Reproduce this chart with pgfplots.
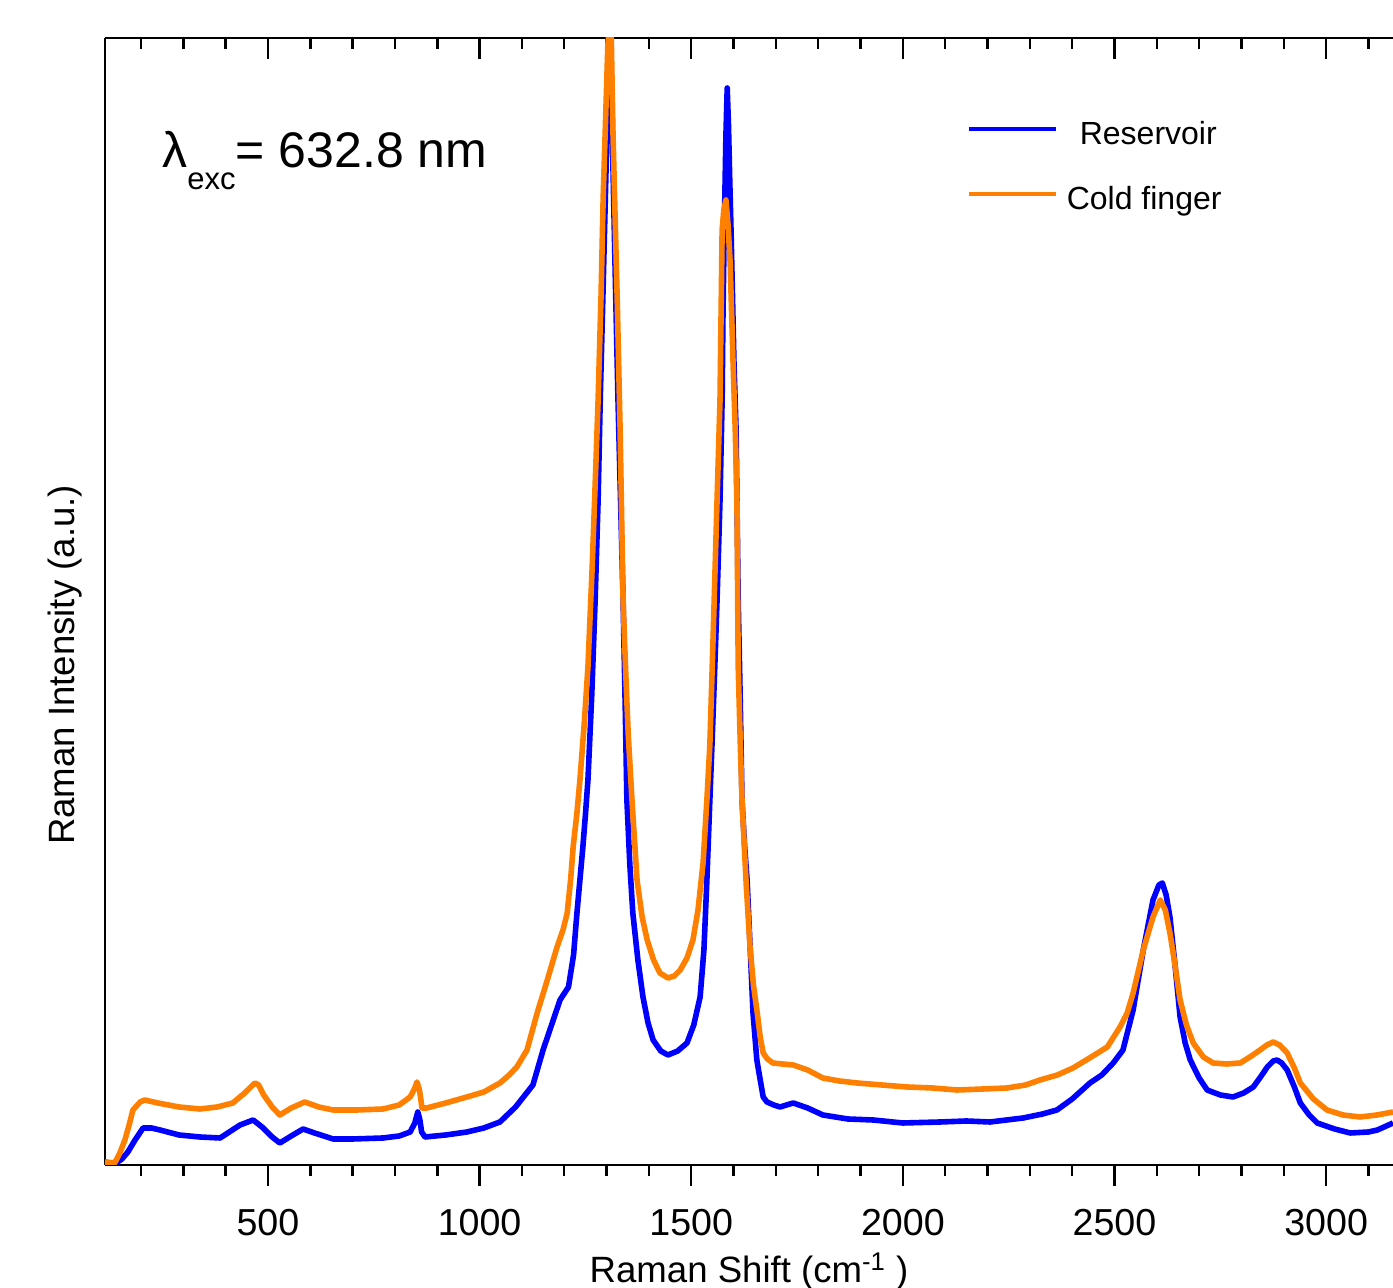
\documentclass[border=0pt]{standalone}
\usepackage{fontspec}
\setmainfont{Liberation Sans}
\usepackage{pgfplots}
\pgfplotsset{compat=1.18}
\definecolor{myblue}{RGB}{0,0,255}
\definecolor{myorange}{RGB}{255,128,0}
\begin{document}
\begin{tikzpicture}
\pgfplotsset{
  common/.style={
    scale only axis, width=644pt, height=563.5pt,
    xmin=115, xmax=3158, ymin=0, ymax=1127,
    xtick={500,1000,...,3000},
    minor xtick={200,300,...,3100},
    ytick=\empty,
    major tick length=10.5pt, minor tick length=5.5pt,
    every tick/.style={line width=1.25pt, black},
    axis line style={line width=1.25pt, -},
    every outer x axis line/.append style={-},
    every outer y axis line/.append style={-},
    /pgf/number format/1000 sep={},
    /pgf/number format/assume math mode=true,
  }
}
\begin{axis}[common,
  axis x line*=top, axis y line=none,
  tick align=inside,
  xticklabels={},
]
\end{axis}
\begin{axis}[common,
  axis x line*=bottom, axis y line*=left,
  tick align=outside,
  xticklabel style={font=\fontsize{18.8}{22}\selectfont, anchor=base, yshift=-25pt},
  xlabel={Raman Shift (cm\textsuperscript{-1} )},
  xlabel style={at={(axis description cs:0.5,0)}, anchor=base, yshift=-59pt, font=\fontsize{18.3}{22}\selectfont},
  ylabel={Raman Intensity (a.u.)},
  ylabel style={at={(axis description cs:-0.031,0.4437)}, anchor=center, font=\fontsize{18.3}{22}\selectfont},
  legend style={at={(axis description cs:0.6685,0.926)}, anchor=north west, draw=none, fill=none,
    font=\fontsize{16}{19}\selectfont, row sep=17.5pt, column sep=4.5pt, inner sep=0pt,
    nodes={inner sep=0pt, text height=11.5pt, text depth=3.5pt}},
  legend cell align=left,
  legend image code/.code={\draw[#1, line width=2.2pt] (0pt,4pt) -- (43.5pt,4pt);},
  clip=true,
]
\addplot[myblue, line width=2.8pt, line join=round] coordinates {
(115,3) (138,1) (155,6) (169,13) (186,25) (205,37) (225,37) (245,35) (290,30) (339,28) (387,27) (434,40) (465,45) (486,38) (510,28) (528,22) (555,29) (583,36) (610,32) (654,26) (700,26) (772,27) (810,29) (836,33) (847,42) (854,53) (859,45) (863,33) (871,28) (920,30) (970,33) (1010,37) (1048,43) (1085,58) (1126,80) (1150,115) (1170,140) (1190,165) (1210,178) (1222,210) (1230,252) (1237,285) (1244,318) (1250,350) (1256,385) (1265,470) (1273,565) (1280,665) (1285,765) (1292,880) (1299,1000) (1304,1080) (1308,1135) (1312,1080) (1315,1000) (1321,880) (1327,765) (1333,665) (1339,565) (1344,460) (1348,365) (1355,300) (1362,252) (1374,205) (1386,168) (1398,142) (1410,125) (1428,114) (1445,110) (1468,114) (1490,122) (1506,140) (1521,168) (1530,215) (1537,285) (1544,365) (1549,420) (1555,490) (1561,565) (1568,665) (1573,765) (1575,850) (1578,935) (1582,1030) (1585,1077) (1588,1040) (1591,985) (1594,935) (1598,860) (1601,802) (1606,735) (1611,565) (1616,460) (1620,365) (1626,320) (1632,285) (1640,210) (1646,152) (1655,105) (1663,85) (1670,68) (1679,63) (1695,60) (1710,58) (1725,60) (1741,62) (1775,57) (1811,50) (1870,46) (1930,45) (2000,42) (2088,43) (2150,44) (2206,43) (2284,47) (2330,51) (2364,55) (2400,66) (2442,82) (2470,90) (2497,102) (2520,115) (2544,155) (2568,215) (2591,265) (2605,280) (2613,282) (2622,270) (2631,248) (2643,200) (2655,148) (2667,122) (2679,105) (2700,87) (2719,75) (2750,70) (2780,68) (2805,72) (2828,78) (2845,88) (2861,98) (2875,104) (2884,105) (2895,102) (2908,95) (2925,78) (2939,62) (2960,50) (2979,42) (3020,36) (3057,32) (3100,33) (3121,35) (3158,42)
};
\addlegendentry{\hspace{6.5pt}Reservoir}
\addplot[myorange, line width=2.8pt, line join=round] coordinates {
(115,3) (138,2) (150,12) (162,25) (172,40) (181,55) (198,63) (209,65) (240,62) (290,58) (339,56) (380,58) (417,62) (445,72) (469,82) (478,80) (490,70) (510,58) (528,50) (555,57) (587,63) (620,58) (654,55) (710,55) (772,56) (810,60) (836,68) (846,76) (852,83) (858,75) (864,57) (875,57) (920,62) (970,68) (1010,73) (1048,82) (1070,90) (1088,98) (1112,115) (1136,152) (1160,185) (1183,218) (1197,235) (1207,252) (1215,285) (1221,318) (1230,352) (1237,385) (1247,440) (1256,498) (1266,598) (1273,680) (1280,765) (1287,870) (1292,968) (1298,1050) (1303,1120) (1307,1140) (1311,1130) (1315,1035) (1320,950) (1325,868) (1332,735) (1339,565) (1345,495) (1351,432) (1360,365) (1372,285) (1384,248) (1396,225) (1411,205) (1426,192) (1445,187) (1460,189) (1474,195) (1490,207) (1504,225) (1516,255) (1528,302) (1537,365) (1544,420) (1552,532) (1560,650) (1568,765) (1573,935) (1577,955) (1582,965) (1587,940) (1592,902) (1599,800) (1604,735) (1608,665) (1611,498) (1616,420) (1620,365) (1630,280) (1639,218) (1647,180) (1656,152) (1663,128) (1670,112) (1680,106) (1693,102) (1715,101) (1741,100) (1775,95) (1811,87) (1850,84) (1892,82) (1950,80) (2010,78) (2070,77) (2128,75) (2190,76) (2246,77) (2290,80) (2324,85) (2365,90) (2402,97) (2445,108) (2483,118) (2513,138) (2530,152) (2544,172) (2568,215) (2591,248) (2608,265) (2620,255) (2631,232) (2643,200) (2655,165) (2670,140) (2686,122) (2710,108) (2733,102) (2765,101) (2797,102) (2820,108) (2844,115) (2860,120) (2875,123) (2890,120) (2908,112) (2925,97) (2939,82) (2970,66) (3002,55) (3040,50) (3080,48) (3120,50) (3158,53)
};
\addlegendentry{Cold finger}
\node[anchor=base west, inner sep=0pt, font=\fontsize{25}{29}\selectfont] at (rel axis cs:0.0443,0.8855)
  {λ\raisebox{-0.45em}{\fontsize{15.5}{18}\selectfont exc}= 632.8 nm};
\end{axis}
\pgfresetboundingbox
\path[use as bounding box] (-52.5pt,-61.5pt) rectangle (644pt,582.5pt);
\end{tikzpicture}
\end{document}
